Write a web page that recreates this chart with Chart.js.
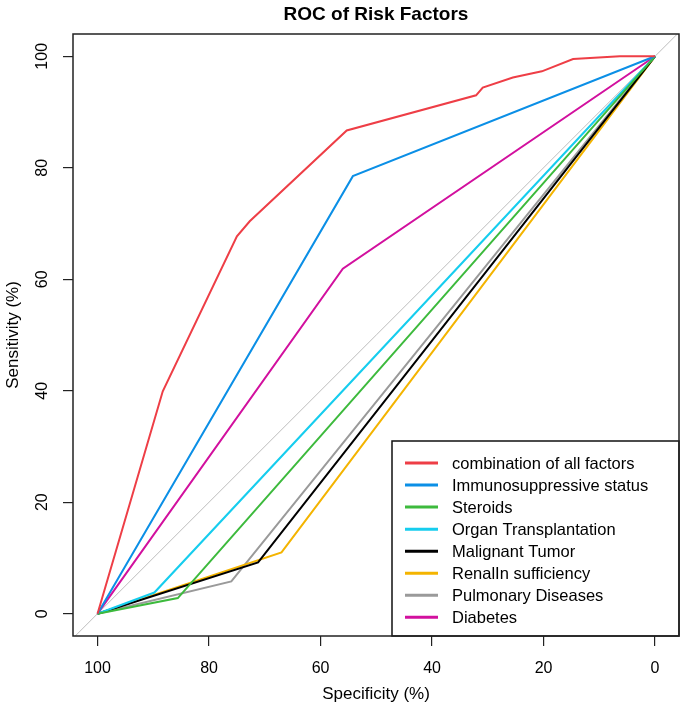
<!DOCTYPE html>
<html lang="en">
<head>
<meta charset="UTF-8">
<title>ROC of Risk Factors</title>
<script src="https://cdn.jsdelivr.net/npm/chart.js"></script>
<style>
    * { margin: 0; padding: 0; box-sizing: border-box; }
    body { background: #fff; }
    .wrap { width: 685px; height: 711px; position: relative; }
</style>
</head>
<body>
<div class="wrap"><canvas id="roc"></canvas></div>
<script>
    // tick labels
    const xTickVals = [100, 80, 60, 40, 20, 0];
    const yTickVals = [0, 20, 40, 60, 80, 100];

    // series names
    const seriesNames = [
        'combination of all factors',
        'Immunosuppressive status',
        'Steroids',
        'Organ Transplantation',
        'Malignant Tumor',
        'RenalIn sufficiency',
        'Pulmonary Diseases',
        'Diabetes'
    ];

    // specificity / sensitivity points (%) for each curve
    const combSpec = [100, 88.3, 75.0, 72.7, 55.3, 32.1, 30.9, 25.5, 20.3, 14.7, 6.3, 0];
    const combSens = [0, 39.9, 67.7, 70.4, 86.7, 93.0, 94.4, 96.2, 97.3, 99.5, 100, 100];
    const immunoSpec = [100, 54.2, 0];
    const immunoSens = [0, 78.5, 100];
    const steroidSpec = [100, 85.6, 0];
    const steroidSens = [0, 2.8, 100];
    const organSpec = [100, 89.8, 0];
    const organSens = [0, 3.8, 100];
    const tumorSpec = [100, 71.2, 0];
    const tumorSens = [0, 9.2, 100];
    const renalSpec = [100, 67.0, 0];
    const renalSens = [0, 11.0, 100];
    const pulmSpec = [100, 76.0, 0];
    const pulmSens = [0, 5.8, 100];
    const diabSpec = [100, 56.0, 0];
    const diabSens = [0, 61.9, 100];

    // chance line
    const diagSpec = [110, -10];
    const diagSens = [-10, 110];

    const colors = ['#ee3e46', '#0b8fe6', '#3dba3d', '#16cdee', '#000000', '#f4b400', '#9a9a9a', '#d2109e'];
    const specs = [combSpec, immunoSpec, steroidSpec, organSpec, tumorSpec, renalSpec, pulmSpec, diabSpec];
    const sens = [combSens, immunoSens, steroidSens, organSens, tumorSens, renalSens, pulmSens, diabSens];

    const toPoints = (xs, ys) => xs.map((x, i) => ({ x: x, y: ys[i] }));

    const datasets = seriesNames.map((name, i) => ({
        label: name,
        data: toPoints(specs[i], sens[i]),
        borderColor: colors[i],
        borderWidth: 2,
        pointRadius: 0,
        tension: 0,
        fill: false,
        clip: 0
    }));
    datasets.push({
        label: '',
        data: toPoints(diagSpec, diagSens),
        borderColor: '#bdbdbd',
        borderWidth: 1,
        pointRadius: 0,
        fill: false,
        clip: 0
    });

    const font = 'Liberation Sans, Arial, sans-serif';

    // box, title, rotated y labels, legend
    const extras = {
        id: 'extras',
        afterDraw(chart) {
            const ctx = chart.ctx;
            const a = chart.chartArea;
            ctx.save();

            ctx.fillStyle = '#000';
            ctx.font = 'bold 19px ' + font;
            ctx.textAlign = 'center';
            ctx.textBaseline = 'middle';
            ctx.fillText('ROC of Risk Factors', (a.left + a.right) / 2, 15);

            // y tick labels, turned like base R
            const ys = chart.scales.y;
            ctx.font = '16px ' + font;
            yTickVals.forEach(v => {
                ctx.save();
                ctx.translate(43, ys.getPixelForValue(v));
                ctx.rotate(-Math.PI / 2);
                ctx.fillText(String(v), 0, 0);
                ctx.restore();
            });

            // legend
            const lx = 392, ly = 441, lw = a.right - 392, lh = a.bottom - 441;
            ctx.fillStyle = '#fff';
            ctx.fillRect(lx, ly, lw, lh);
            ctx.strokeStyle = '#111';
            ctx.lineWidth = 1.5;
            ctx.strokeRect(lx, ly, lw, lh);
            ctx.font = '16.5px ' + font;
            ctx.textAlign = 'left';
            seriesNames.forEach((name, i) => {
                const y = 463 + i * 22.05;
                ctx.strokeStyle = colors[i];
                ctx.lineWidth = 3;
                ctx.beginPath();
                ctx.moveTo(405, y);
                ctx.lineTo(438, y);
                ctx.stroke();
                ctx.fillStyle = '#000';
                ctx.fillText(name, 452, y + 1);
            });

            // plot frame
            ctx.strokeStyle = '#222';
            ctx.lineWidth = 1.5;
            ctx.strokeRect(a.left, a.top, a.right - a.left, a.bottom - a.top);
            ctx.restore();
        }
    };

    new Chart(document.getElementById('roc'), {
        type: 'line',
        data: { datasets: datasets },
        options: {
            responsive: true,
            maintainAspectRatio: false,
            animation: false,
            layout: { padding: { top: 34, right: 6, bottom: 0, left: 0 } },
            plugins: {
                legend: { display: false },
                tooltip: { enabled: false },
                title: { display: false }
            },
            scales: {
                x: {
                    type: 'linear',
                    reverse: true,
                    min: -4.3,
                    max: 104.4,
                    afterBuildTicks: s => { s.ticks = xTickVals.map(v => ({ value: v })); },
                    afterFit: s => { s.height = 75; },
                    grid: { drawOnChartArea: false, drawTicks: true, tickLength: 10, color: '#222', lineWidth: 1.2 },
                    border: { display: false },
                    ticks: { color: '#000', font: { family: font, size: 16 }, padding: 13, maxRotation: 0 },
                    title: { display: true, text: 'Specificity (%)', color: '#000', font: { family: font, size: 17 }, padding: { top: 0, bottom: 6 } }
                },
                y: {
                    type: 'linear',
                    min: -4,
                    max: 104,
                    afterBuildTicks: s => { s.ticks = yTickVals.map(v => ({ value: v })); },
                    afterFit: s => { s.width = 73; },
                    grid: { drawOnChartArea: false, drawTicks: true, tickLength: 10, color: '#222', lineWidth: 1.2 },
                    border: { display: false },
                    ticks: { display: false },
                    title: { display: true, text: 'Sensitivity (%)', color: '#000', font: { family: font, size: 17 }, padding: { top: 3, bottom: 0 } }
                }
            }
        },
        plugins: [extras]
    });
</script>
</body>
</html>
